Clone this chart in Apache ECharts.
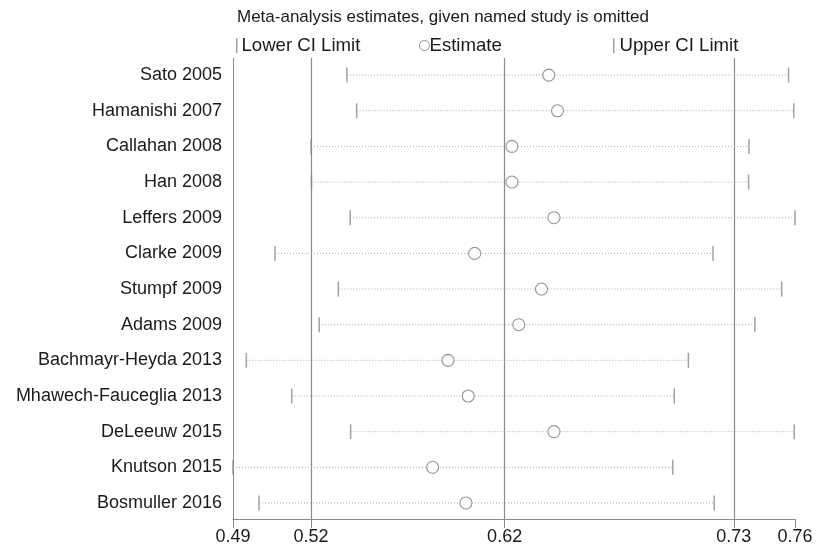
<!DOCTYPE html>
<html>
<head>
<meta charset="utf-8">
<script src="https://cdn.jsdelivr.net/npm/echarts@6/dist/echarts.min.js"></script>
<style>html,body{margin:0;padding:0;background:#fff;}#c{width:822px;height:552px;}</style>
</head>
<body>
<div id="c"></div>
<script>
const studies = ['Sato 2005','Hamanishi 2007','Callahan 2008','Han 2008','Leffers 2009','Clarke 2009','Stumpf 2009','Adams 2009','Bachmayr-Heyda 2013','Mhawech-Fauceglia 2013','DeLeeuw 2015','Knutson 2015','Bosmuller 2016'];
const lowerCI = [0.5447, 0.5494, 0.5275, 0.5277, 0.5463, 0.5102, 0.5406, 0.5314, 0.4964, 0.5182, 0.5465, 0.4900, 0.5025];
const estimate = [0.6417, 0.6459, 0.6240, 0.6240, 0.6442, 0.6061, 0.6382, 0.6273, 0.5933, 0.6030, 0.6442, 0.5859, 0.6019];
const upperCI = [0.7569, 0.7594, 0.7379, 0.7377, 0.7600, 0.7206, 0.7536, 0.7407, 0.7088, 0.7020, 0.7596, 0.7013, 0.7212];
const refLines = [0.5275, 0.6205, 0.7306];
const xTickValues = [0.49, 0.5275, 0.6205, 0.7306, 0.76];
const xTickLabels = ['0.49', '0.52', '0.62', '0.73', '0.76'];
const xMin = 0.49, xMax = 0.76;

const FONT = '"Liberation Sans", Arial, Helvetica, sans-serif';
const TXT = '#1a1a1a';
const GRAY = '#8a8a8a';
const CIRC = '#7a7a7a';

const idx = studies.map((s, i) => i);
const ciData = idx.map(i => [lowerCI[i], upperCI[i], i]);
const lowData = idx.map(i => [lowerCI[i], i]);
const upData = idx.map(i => [upperCI[i], i]);
const estData = idx.map(i => [estimate[i], i]);

const chart = echarts.init(document.getElementById('c'));
chart.setOption({
  animation: false,
  backgroundColor: '#fff',
  textStyle: { fontFamily: FONT },
  title: {
    text: 'Meta-analysis estimates, given named study is omitted',
    left: 232, top: 4,
    textStyle: { fontSize: 17, fontWeight: 'normal', color: TXT, fontFamily: FONT }
  },
  legend: [
    { data: [{ name: 'Lower CI Limit', icon: 'rect' }], left: 231, top: 31, itemWidth: 1.5, itemHeight: 15,
      textStyle: { fontSize: 18.6, color: TXT, fontFamily: FONT, padding: [0, 0, 0, -1] }, selectedMode: false },
    { data: [{ name: 'Estimate', icon: 'circle', itemStyle: { color: '#fff', borderColor: CIRC, borderWidth: 1 } }],
      left: 414, top: 31, itemWidth: 10, itemHeight: 10,
      textStyle: { fontSize: 18.6, color: TXT, fontFamily: FONT, padding: [0, 0, 0, -5] }, selectedMode: false },
    { data: [{ name: 'Upper CI Limit', icon: 'rect' }], left: 608, top: 31, itemWidth: 1.5, itemHeight: 15,
      textStyle: { fontSize: 18.6, color: TXT, fontFamily: FONT, padding: [0, 0, 0, 0] }, selectedMode: false }
  ],
  grid: { left: 233, right: 27, top: 58, bottom: 33, containLabel: false, outerBoundsMode: 'none' },
  xAxis: {
    type: 'value', min: xMin, max: xMax,
    axisLine: { show: true, onZero: false, lineStyle: { color: GRAY, width: 1 } },
    axisTick: { show: true, customValues: xTickValues, length: 9, lineStyle: { color: GRAY } },
    axisLabel: {
      customValues: xTickValues, margin: 9, fontSize: 18, color: TXT, fontFamily: FONT,
      formatter: v => { const k = xTickValues.findIndex(t => Math.abs(t - v) < 1e-6); return k >= 0 ? xTickLabels[k] : ''; }
    },
    splitLine: { show: false }
  },
  yAxis: {
    type: 'value', inverse: true, min: -0.48, max: 12.45,
    axisLine: { show: true, onZero: false, lineStyle: { color: GRAY, width: 1 } },
    axisTick: { show: false },
    axisLabel: {
      customValues: idx, margin: 11, fontSize: 18, color: TXT, fontFamily: FONT,
      formatter: v => studies[Math.round(v)] || ''
    },
    splitLine: { show: false }
  },
  series: [
    {
      type: 'custom', name: 'CI', silent: true, z: 2,
      encode: { x: [0, 1], y: 2 },
      data: ciData,
      renderItem: (params, api) => {
        const p1 = api.coord([api.value(0), api.value(2)]);
        const p2 = api.coord([api.value(1), api.value(2)]);
        return { type: 'line', shape: { x1: p1[0], y1: p1[1], x2: p2[0], y2: p2[1] },
          style: { stroke: '#a8a8a8', lineWidth: 1, lineDash: [1, 2] } };
      }
    },
    {
      type: 'scatter', name: 'Lower CI Limit', z: 3, symbol: 'rect', symbolSize: [1.5, 15],
      itemStyle: { color: GRAY }, data: lowData
    },
    {
      type: 'scatter', name: 'Upper CI Limit', z: 3, symbol: 'rect', symbolSize: [1.5, 15],
      itemStyle: { color: GRAY }, data: upData
    },
    {
      type: 'scatter', name: 'Estimate', z: 4, symbol: 'circle', symbolSize: 12,
      itemStyle: { color: '#fff', borderColor: CIRC, borderWidth: 1.1 }, data: estData,
      markLine: {
        silent: true, symbol: 'none', label: { show: false }, z: 1, precision: 6,
        lineStyle: { color: GRAY, type: 'solid', width: 1.2 },
        data: refLines.map(v => ({ xAxis: v }))
      }
    }
  ]
});
</script>
</body>
</html>
